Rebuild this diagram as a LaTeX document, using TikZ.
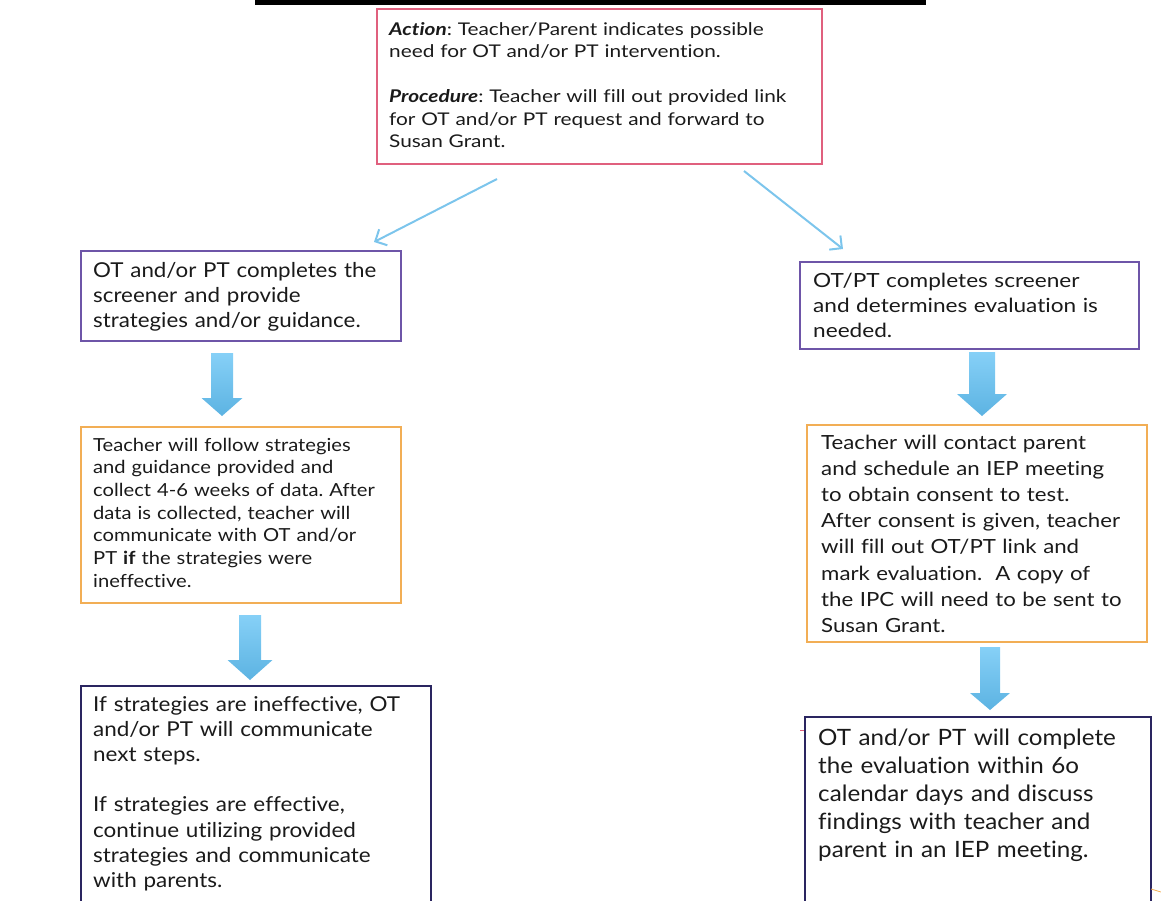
\documentclass[tikz,border=0pt]{standalone}
\usepackage{fontspec}
\setmainfont{Lato}[Ligatures=NoCommon]
\newfontfamily\fTop{Lato}[FakeStretch=1.19, Ligatures=NoCommon]
\newfontfamily\fLa{Lato}[FakeStretch=1.09, Ligatures=NoCommon]
\newfontfamily\fLb{Lato}[FakeStretch=1.12, Ligatures=NoCommon]
\newfontfamily\fLc{Lato}[FakeStretch=1.095, Ligatures=NoCommon]
\newfontfamily\fRa{Lato}[FakeStretch=1.16, Ligatures=NoCommon]
\newfontfamily\fRb{Lato}[FakeStretch=1.14, Ligatures=NoCommon]
\newfontfamily\fRc{Lato}[FakeStretch=1.075, Ligatures=NoCommon]
\usetikzlibrary{arrows.meta,calc}
\definecolor{pinkB}{HTML}{E0607E}
\definecolor{purpB}{HTML}{6E55A8}
\definecolor{orngB}{HTML}{F2AE55}
\definecolor{navyB}{HTML}{2A2560}
\definecolor{skyA}{HTML}{7CC5EC}
\definecolor{skyTop}{HTML}{86D0F7}
\definecolor{skyBot}{HTML}{5CB3E2}
\definecolor{txtC}{HTML}{1A1A1A}
\newcommand{\myfs}[2]{\fontsize{#1}{#2}\selectfont\frenchspacing}
\newcommand{\blockarr}[6]{% cx, top, headstart, tip, shafthalf, headhalf
  \shade[top color=skyTop,bottom color=skyBot]
    (#1-#5,#2) -- (#1+#5,#2) -- (#1+#5,#3) -- (#1+#6,#3) -- (#1,#4)
    -- (#1-#6,#3) -- (#1-#5,#3) -- cycle;}
\begin{document}
\begin{tikzpicture}[x=1pt,y=-1pt,
  boxs/.style={draw, line width=2pt, anchor=north west, inner sep=0pt, fill=none},
  txt/.style={anchor=base west, inner sep=0pt, align=left, text=txtC, text width=#1},
  thinarr/.style={draw=skyA, line width=2pt, -{Straight Barb[length=9pt,width=18pt,line width=2pt]}}]
\useasboundingbox (0,0) rectangle (1161,900);
\clip (0,0) rectangle (1161,900);
\fill[black] (255,0) rectangle (926,4.5);

% boxes
\node[boxs, draw=pinkB, minimum width=445pt, minimum height=155pt] (top) at (376,8) {};
\node[boxs, draw=purpB, minimum width=320pt, minimum height=90pt] (l1) at (80,250) {};
\node[boxs, draw=purpB, minimum width=339pt, minimum height=87pt] (r1) at (799,261) {};
\node[boxs, draw=orngB, minimum width=320pt, minimum height=176pt] (l2) at (80,426) {};
\node[boxs, draw=orngB, minimum width=340pt, minimum height=217pt] (r2) at (806,424) {};
\node[boxs, draw=navyB, minimum width=350pt, minimum height=240pt] (l3) at (80,685) {};
\node[boxs, draw=navyB, minimum width=346pt, minimum height=210pt] (r3) at (804,716) {};

% texts
\node[txt=440pt, font=\fTop\myfs{17.5}{22.5}] (topt) at (389,35)
 {\textbf{\textit{Action}}: Teacher/Parent indicates possible\\
  need for OT and/or PT intervention.\\[22.5pt]
  \textbf{\textit{Procedure}}: Teacher will fill out provided link\\
  for OT and/or PT request and forward to\\
  Susan Grant.};
\node[txt=310pt, font=\fLa\myfs{20.5}{25}] (l1t) at (93,277)
 {OT and/or PT completes the\\ screener and provide\\ strategies and/or guidance.};
\node[txt=330pt, font=\fRa\myfs{19.5}{25}] (r1t) at (813,287)
 {OT/PT completes screener\\ and determines evaluation is\\ needed.};
\node[txt=310pt, font=\fLb\myfs{18}{22.7}] (l2t) at (93,451)
 {Teacher will follow strategies\\ and guidance provided and\\ collect 4-6 weeks of data. After\\
  data is collected, teacher will\\ communicate with OT and/or\\ PT \textbf{if} the strategies were\\ ineffective.};
\node[txt=330pt, font=\fRb\myfs{19.5}{26.2}] (r2t) at (821,449)
 {Teacher will contact parent\\ and schedule an IEP meeting\\ to obtain consent to test.\\
  After consent is given, teacher\\ will fill out OT/PT link and\\ mark evaluation.\ \ A copy of\\
  the IPC will need to be sent to\\ Susan Grant.};
\node[txt=340pt, font=\fLc\myfs{20.5}{25.2}] (l3t) at (93,711)
 {If strategies are ineffective, OT\\ and/or PT will communicate\\ next steps.\\[25.2pt]
  If strategies are effective,\\ continue utilizing provided\\ strategies and communicate\\ with parents.};
\node[txt=340pt, font=\fRc\myfs{22.5}{28}] (r3t) at (818,745)
 {OT and/or PT will complete\\ the evaluation within 6o\\ calendar days and discuss\\
  findings with teacher and\\ parent in an IEP meeting.};

% thin arrows
\coordinate (a1s) at (497,179);
\coordinate (a1e) at (374,242);
\coordinate (a2s) at (744,171);
\coordinate (a2e) at (843,249);
\draw[thinarr] (a1s) -- (a1e);
\draw[thinarr] (a2s) -- (a2e);

% block arrows
\blockarr{222}{353}{398}{416}{11}{20.5}
\blockarr{250}{615}{660}{680}{11}{22.5}
\blockarr{982}{352}{394}{416}{13}{25}
\blockarr{990}{647}{693}{710}{10}{20}

% small marks
\draw[pinkB, line width=0.8pt] (800,730) -- (804,730);
\draw[orngB, line width=0.8pt] (1151,889) -- (1161,892);
\end{tikzpicture}
\end{document}
